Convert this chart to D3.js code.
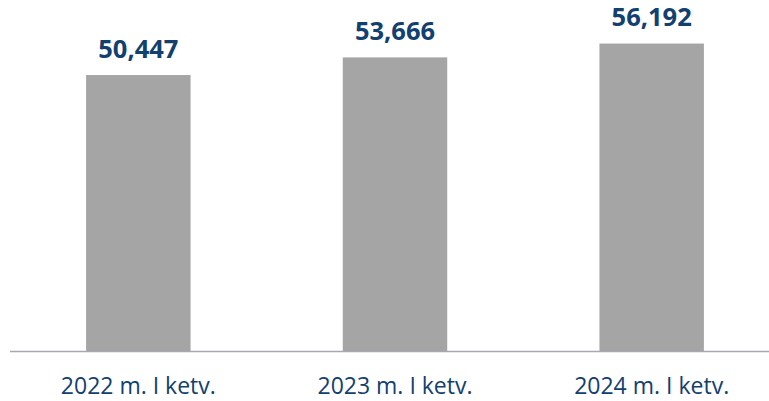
<!DOCTYPE html>
<html><head><meta charset="utf-8">
<script src="https://cdn.jsdelivr.net/npm/d3@7"></script>
<style>html,body{margin:0;padding:0;background:#fff;}</style>
</head><body>
<svg id="chart" width="769" height="401"></svg>
<script>
const categories = ["2022 m. I ketv.", "2023 m. I ketv.", "2024 m. I ketv."];
const values = [50447, 53666, 56192];

const svg = d3.select("#chart");
const baseY = 351.5;
const x = d3.scaleBand().domain(categories).range([10, 780])
  .paddingInner(0.593).paddingOuter(0.2965);
const y = d3.scaleLinear().domain([0, 64140]).range([baseY, 0]);
const fmt = d3.format(",");

svg.selectAll("rect.bar").data(values).join("rect")
  .attr("class", "bar")
  .attr("x", (d, i) => x(categories[i]))
  .attr("width", x.bandwidth())
  .attr("y", d => y(d))
  .attr("height", d => baseY - y(d))
  .attr("fill", "#a5a5a5");

svg.append("line").attr("x1", 10).attr("x2", 769)
  .attr("y1", baseY).attr("y2", baseY)
  .attr("stroke", "#a6a9b0").attr("stroke-width", 1.5);

svg.selectAll("text.val").data(values).join("text")
  .attr("class", "val")
  .attr("x", (d, i) => x(categories[i]) + x.bandwidth() / 2)
  .attr("y", d => y(d) - 17.5)
  .attr("text-anchor", "middle")
  .attr("font-family", "'Open Sans', sans-serif")
  .attr("font-weight", "bold")
  .attr("font-size", "25.5px")
  .attr("fill", "#12406f")
  .text(d => fmt(d));

const axis = d3.axisBottom(x).tickSize(0).tickPadding(0);
const g = svg.append("g").attr("transform", `translate(0,${baseY})`).call(axis);
g.select(".domain").remove();
g.selectAll("text")
  .attr("y", 42).attr("dy", null)
  .attr("font-family", "'Open Sans', sans-serif")
  .attr("font-size", "23px")
  .attr("fill", "#12406f");
</script>
</body></html>
